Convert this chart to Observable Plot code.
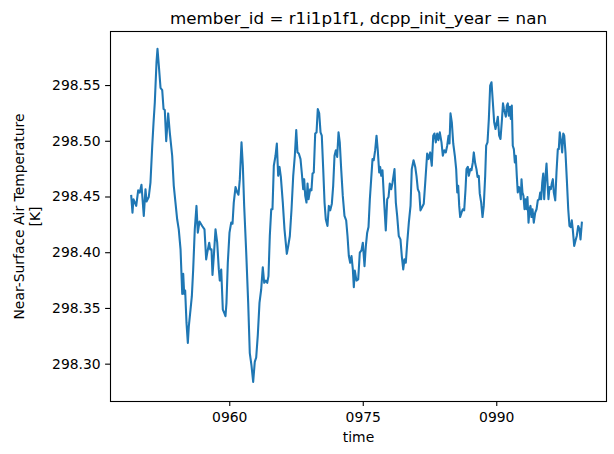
<!DOCTYPE html>
<html>
<head>
<meta charset="utf-8">
<script src="https://cdn.jsdelivr.net/npm/d3@7"></script>
<script src="https://cdn.jsdelivr.net/npm/@observablehq/plot@0.6"></script>
<style>
  html, body { margin: 0; padding: 0; background: #fff; }
  #chart svg { display: block; }
</style>
</head>
<body>
<div id="chart"></div>
<script>
const titleText = "member_id = r1i1p1f1, dcpp_init_year = nan";
const xLabel = "time";
const yLabel = "Near-Surface Air Temperature\n[K]";
const xTicks = [960, 975, 990];
const yTicks = [298.30, 298.35, 298.40, 298.45, 298.50, 298.55];

const years = [
948.93,949.07,949.18,949.49,949.71,949.89,950.08,950.34,950.53,950.65,950.90,951.09,951.29,951.43,951.58,951.77,951.88,952.03,952.22,952.41,
952.56,952.70,952.86,953.08,953.26,953.53,953.71,953.90,954.09,954.27,954.47,954.66,954.77,954.88,954.99,955.14,955.29,955.40,955.59,955.74,
955.89,956.07,956.26,956.41,956.60,956.90,957.16,957.35,957.47,957.69,957.80,957.95,958.06,958.21,958.40,958.59,958.77,958.88,959.04,959.22,
959.38,959.52,959.63,959.78,959.97,960.16,960.31,960.45,960.65,960.84,960.98,961.13,961.32,961.47,961.62,961.85,962.07,962.25,962.44,962.63,
962.81,962.97,963.15,963.34,963.53,963.71,963.87,964.05,964.21,964.35,964.50,964.66,964.80,964.95,965.14,965.29,965.44,965.59,965.74,965.96,
966.15,966.41,966.57,966.75,966.94,967.13,967.31,967.47,967.61,967.76,967.95,968.09,968.25,968.36,968.48,968.62,968.74,968.85,969.04,969.18,
969.30,969.44,969.60,969.75,969.89,970.05,970.20,970.34,970.50,970.65,970.79,970.98,971.13,971.29,971.47,971.62,971.77,971.92,972.07,972.22,
972.36,972.52,972.70,972.89,973.08,973.23,973.38,973.53,973.68,973.83,973.94,974.05,974.24,974.43,974.61,974.80,974.95,975.14,975.29,975.44,
975.59,975.74,975.89,976.04,976.18,976.34,976.49,976.63,976.79,976.90,977.02,977.16,977.35,977.53,977.69,977.84,977.98,978.14,978.29,978.51,
978.66,978.81,978.99,979.18,979.33,979.49,979.63,979.78,979.94,980.12,980.31,980.45,980.65,980.84,980.98,981.13,981.29,981.43,981.62,981.80,
981.99,982.18,982.33,982.52,982.70,982.86,983.00,983.15,983.31,983.45,983.60,983.79,983.94,984.10,984.27,984.43,984.58,984.69,984.80,984.95,
985.11,985.29,985.44,985.56,985.67,985.78,985.89,986.04,986.18,986.34,986.49,986.60,986.75,986.86,987.02,987.16,987.31,987.42,987.58,987.72,
987.84,987.98,988.09,988.25,988.40,988.54,988.70,988.81,988.96,989.11,989.26,989.41,989.56,989.71,989.86,990.01,990.12,990.27,990.42,990.57,
990.70,990.81,990.90,991.02,991.13,991.24,991.35,991.47,991.58,991.69,991.80,991.92,992.03,992.14,992.25,992.36,992.48,992.59,992.70,992.78,
992.89,993.00,993.12,993.23,993.34,993.45,993.57,993.68,993.79,993.90,994.02,994.16,994.32,994.47,994.61,994.77,994.88,994.99,995.11,995.22,
995.33,995.48,995.59,995.70,995.81,995.93,996.07,996.18,996.30,996.41,996.57,996.71,996.86,996.97,997.08,997.24,997.35,997.47,997.58,997.72,
997.87,998.03,998.17,998.32,998.43,998.54,998.70,998.85,998.99,999.15,999.30,999.41,999.56
];

const tas = [
298.451,298.436,298.448,298.442,298.456,298.454,298.461,298.433,298.457,298.446,298.450,298.463,298.496,298.516,298.535,298.571,298.583,298.568,298.548,298.546,
298.529,298.528,298.500,298.525,298.508,298.487,298.460,298.445,298.430,298.421,298.403,298.363,298.381,298.363,298.366,298.337,298.319,298.334,298.349,298.361,
298.385,298.421,298.442,298.418,298.428,298.424,298.421,298.394,298.400,298.409,298.403,298.403,298.380,298.397,298.421,298.409,298.385,298.375,298.385,298.349,
298.346,298.343,298.355,298.391,298.418,298.427,298.426,298.445,298.459,298.454,298.452,298.466,298.499,298.478,298.442,298.400,298.355,298.310,298.299,298.284,
298.302,298.306,298.326,298.355,298.367,298.387,298.373,298.375,298.373,298.379,298.415,298.439,298.439,298.478,298.487,298.498,298.469,298.477,298.468,298.445,
298.421,298.399,298.406,298.415,298.439,298.469,298.487,298.510,298.490,298.489,298.484,298.472,298.457,298.466,298.451,298.445,298.462,298.448,298.457,298.456,
298.471,298.472,298.507,298.508,298.529,298.525,298.508,298.505,298.475,298.445,298.430,298.424,298.442,298.438,298.444,298.460,298.487,298.492,298.486,298.508,
298.499,298.475,298.451,298.433,298.429,298.415,298.397,298.391,298.397,298.385,298.369,298.384,298.375,298.376,298.400,298.402,298.409,298.388,298.406,298.418,
298.423,298.448,298.466,298.484,298.483,298.492,298.505,298.492,298.472,298.477,298.469,298.474,298.445,298.420,298.448,298.450,298.462,298.457,298.463,298.475,
298.445,298.433,298.415,298.412,298.397,298.385,298.394,298.391,298.409,298.427,298.442,298.475,298.483,298.477,298.469,298.457,298.454,298.438,298.441,298.444,
298.466,298.489,298.484,298.490,298.478,298.505,298.507,298.499,298.507,298.501,298.508,298.499,298.487,298.492,298.490,298.496,298.505,298.498,298.525,298.517,
298.498,298.487,298.475,298.454,298.460,298.442,298.432,298.436,298.439,298.438,298.457,298.475,298.477,298.469,298.475,298.474,298.481,298.490,298.480,298.475,
298.468,298.469,298.453,298.445,298.432,298.442,298.469,298.496,298.499,298.520,298.550,298.553,298.535,298.517,298.511,298.517,298.522,298.505,298.502,298.518,
298.534,298.529,298.526,298.522,298.532,298.534,298.523,298.531,298.520,298.532,298.496,298.493,298.481,298.487,298.469,298.454,298.459,298.457,298.448,298.466,
298.454,298.451,298.439,298.448,298.439,298.450,298.427,298.439,298.442,298.432,298.439,298.427,298.436,298.439,298.447,298.448,298.454,298.448,298.463,298.471,
298.448,298.469,298.480,298.463,298.448,298.459,298.457,298.462,298.466,298.454,298.447,298.472,298.493,298.493,298.508,298.499,298.490,298.507,298.505,298.490,
298.466,298.439,298.424,298.423,298.429,298.421,298.406,298.411,298.415,298.424,298.421,298.412,298.427
];

const data = years.map((t, i) => ({t, v: tas[i]}));
const font = "DejaVu Sans";

const chart = Plot.plot({
  width: 614,
  height: 454,
  marginLeft: 110,
  marginRight: 8,
  marginTop: 31,
  marginBottom: 53,
  style: {fontFamily: font, fontSize: "13.9px", background: "#fff", color: "#000"},
  x: {domain: [946.6, 1002.33], ticks: xTicks, tickFormat: d => String(d).padStart(4, "0"), label: null},
  y: {domain: [298.2665, 298.5985], ticks: yTicks, tickFormat: d => d.toFixed(2), label: null},
  marks: [
    Plot.axisX({ticks: xTicks, tickFormat: d => String(d).padStart(4, "0"), tickSize: 4.9, tickPadding: 5.5, strokeWidth: 1.1, fontSize: 13.9, label: null}),
    Plot.axisY({ticks: yTicks, tickFormat: d => d.toFixed(2), tickSize: 4.9, tickPadding: 4.9, strokeWidth: 1.1, fontSize: 13.9, label: null}),
    Plot.line(data, {x: "t", y: "v", stroke: "#1f77b4", strokeWidth: 2.08, strokeLinejoin: "round", strokeLinecap: "square"}),
    Plot.frame({stroke: "#000", strokeWidth: 1.1}),
    Plot.text([titleText], {frameAnchor: "top", lineAnchor: "bottom", dy: -8, fontSize: 16.7, fill: "#000", text: d => d}),
    Plot.text([xLabel], {frameAnchor: "bottom", lineAnchor: "bottom", dy: 40, fontSize: 13.9, fill: "#000", text: d => d}),
    Plot.text([yLabel], {frameAnchor: "left", textAnchor: "middle", lineAnchor: "middle", rotate: -90, dx: -84, lineHeight: 1.2, fontSize: 13.9, fill: "#000", text: d => d})
  ]
});
document.getElementById("chart").appendChild(chart);
</script>
</body>
</html>
